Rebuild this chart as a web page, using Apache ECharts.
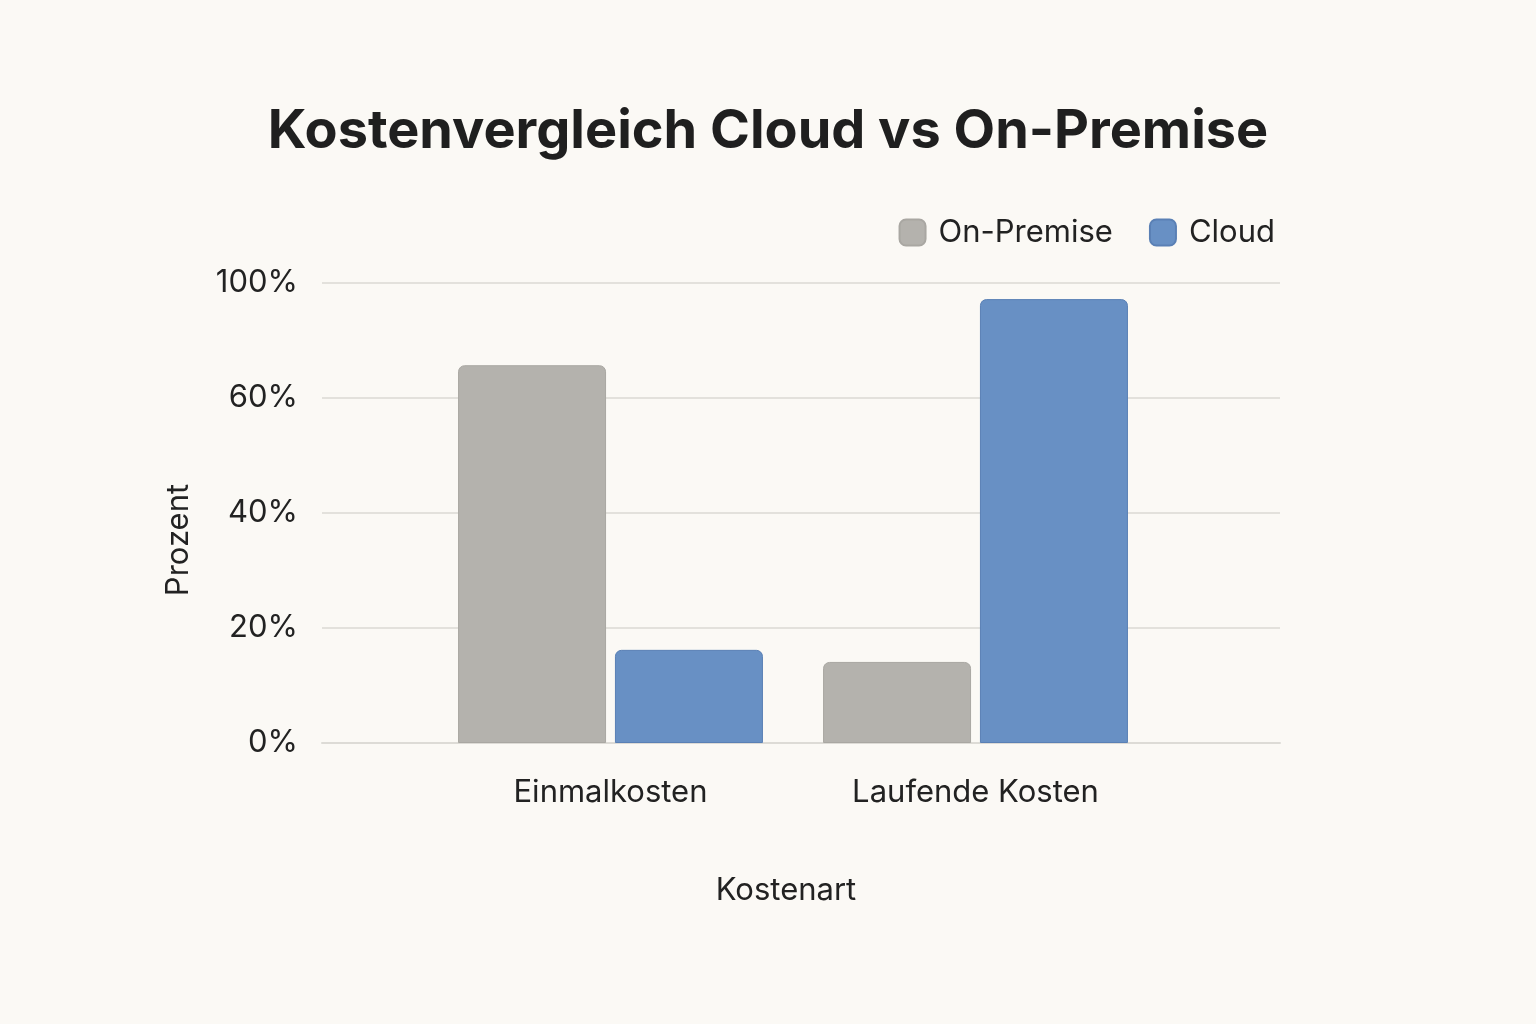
<!DOCTYPE html>
<html>
<head>
<meta charset="utf-8">
<script src="https://cdn.jsdelivr.net/npm/echarts@6/dist/echarts.min.js"></script>
<style>
  html, body { margin: 0; padding: 0; background: #fbf9f5; }
  #chart { width: 1536px; height: 1024px; }
</style>
</head>
<body>
<div id="chart"></div>
<script>
const categories = ['Einmalkosten', 'Laufende Kosten'];
const onPremise = [65.7, 14.1];
const cloud = [16.2, 77.2];
// the picture labels its top gridline "100%" although it is spaced like 80%
const tickLabels = { 0: '0%', 20: '20%', 40: '40%', 60: '60%', 80: '100%' };

const myChart = echarts.init(document.getElementById('chart'));
const font = 'Inter, "Noto Sans", sans-serif';
const option = {
  backgroundColor: '#fbf9f5',
  color: ['#b4b2ad', '#6890c4'],
  title: {
    text: 'Kostenvergleich Cloud vs On-Premise',
    left: 'center',
    top: 100,
    textStyle: { fontFamily: font, fontSize: 54, fontWeight: 'bold', color: '#1f1f1f' },
  },
  legend: {
    right: 256,
    top: 212,
    itemWidth: 26,
    itemHeight: 26,
    itemGap: 36,
    icon: 'roundRect',
    textStyle: { fontFamily: font, fontSize: 31, color: '#222', padding: [0, 0, 0, 8] },
    data: ['On-Premise', 'Cloud'],
  },
  // grid 0 carries the gridlines and y labels, grid 1 the bars
  grid: [
    { left: 322, right: 256, top: 283, bottom: 281 },
    { left: 428, right: 378, top: 283, bottom: 281 },
  ],
  xAxis: [
    {
      type: 'category',
      gridIndex: 0,
      data: categories,
      name: 'Kostenart',
      nameLocation: 'middle',
      nameGap: 132,
      nameTextStyle: { fontFamily: font, fontSize: 31, color: '#222', padding: [0, 0, 0, -30] },
      axisLine: { lineStyle: { color: '#dddbd6', width: 2 } },
      axisTick: { show: false },
      axisLabel: { show: false },
    },
    {
      type: 'category',
      gridIndex: 1,
      data: categories,
      axisLine: { show: false },
      axisTick: { show: false },
      axisLabel: { fontFamily: font, fontSize: 31, color: '#222', margin: 34 },
    },
  ],
  yAxis: [
    {
      type: 'value',
      gridIndex: 0,
      min: 0,
      max: 80,
      interval: 20,
      name: 'Prozent',
      nameLocation: 'middle',
      nameGap: 128,
      nameTextStyle: { fontFamily: font, fontSize: 31, color: '#222', padding: [0, 54, 0, 0] },
      axisLine: { show: false },
      axisTick: { show: false },
      axisLabel: {
        fontFamily: font, fontSize: 31, color: '#222', margin: 24,
        formatter: (v) => tickLabels[v],
      },
      splitLine: { lineStyle: { color: '#e3e1dc', width: 2 } },
    },
    {
      type: 'value',
      gridIndex: 1,
      min: 0,
      max: 80,
      interval: 20,
      show: false,
      splitLine: { show: false },
    },
  ],
  series: [
    {
      name: 'On-Premise',
      type: 'bar',
      xAxisIndex: 1,
      yAxisIndex: 1,
      data: onPremise,
      barWidth: 148,
      barGap: '6%',
      itemStyle: { borderRadius: [6, 6, 0, 0], borderColor: '#a9a7a2', borderWidth: 1 },
    },
    {
      name: 'Cloud',
      type: 'bar',
      xAxisIndex: 1,
      yAxisIndex: 1,
      data: cloud,
      barWidth: 148,
      itemStyle: { borderRadius: [6, 6, 0, 0], borderColor: '#5a80b5', borderWidth: 1 },
    },
  ],
};
myChart.setOption(option, true);
</script>
</body>
</html>
